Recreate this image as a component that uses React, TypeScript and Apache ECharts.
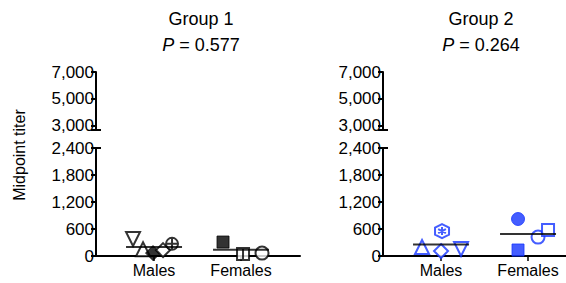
import React, { useEffect, useRef } from "react";
import * as echarts from "echarts";

const categories = ["Males", "Females"];
const group1Males = [378, 150, 65, 130, 270];
const group1Females = [310, 45, 65];
const group2Males = [200, 555, 110, 155];
const group2Females = [822, 133, 420, 578];
const lowerTicks = [0, 600, 1200, 1800, 2400];
const upperTicks = [3000, 5000, 7000];
const titles = ["Group 1", "Group 2"];
const pValues = ["0.577", "0.264"];

const BLUE = "#1535ff";
const FONT = "'Liberation Sans', Arial, Helvetica, sans-serif";

const INV_TRI = "path://M0,0 L10,0 L5,9 Z";
const TRI = "path://M5,0 L10,9 L0,9 Z";
const DIAMOND = "path://M5,0 L10,5 L5,10 L0,5 Z";
const CROSS_CIRCLE = "path://M0,5 A5,5 0 1,1 10,5 A5,5 0 1,1 0,5 Z M5,0 L5,10 M0,5 L10,5";
const HEX_STAR = "path://M5,0 L9.33,2.5 L9.33,7.5 L5,10 L0.67,7.5 L0.67,2.5 Z M5,2.2 L5,7.8 M2.6,3.6 L7.4,6.4 M2.6,6.4 L7.4,3.6";
const SQUARE = "path://M0,0 L10,0 L10,10 L0,10 Z";
const SQUARE_V = "path://M0,0 L10,0 L10,10 L0,10 Z M5,0 L5,10";
const CIRCLE = "path://M0,5 A5,5 0 1,1 10,5 A5,5 0 1,1 0,5 Z";

type Mk = { symbol: string; filled: boolean; dx: number; size?: number };

const g1MalesMarks: Mk[] = [
  { symbol: INV_TRI, filled: false, dx: -21 },
  { symbol: TRI, filled: false, dx: -11 },
  { symbol: DIAMOND, filled: true, dx: -1, size: 15 },
  { symbol: DIAMOND, filled: false, dx: 9 },
  { symbol: CROSS_CIRCLE, filled: false, dx: 18, size: 12 },
];
const g1FemalesMarks: Mk[] = [
  { symbol: SQUARE, filled: true, dx: -18, size: 12 },
  { symbol: SQUARE_V, filled: false, dx: 2, size: 12 },
  { symbol: CIRCLE, filled: false, dx: 21, size: 13 },
];
const g2MalesMarks: Mk[] = [
  { symbol: TRI, filled: false, dx: -19 },
  { symbol: HEX_STAR, filled: false, dx: 1 },
  { symbol: DIAMOND, filled: false, dx: 0 },
  { symbol: INV_TRI, filled: false, dx: 20 },
];
const g2FemalesMarks: Mk[] = [
  { symbol: CIRCLE, filled: true, dx: -10, size: 13 },
  { symbol: SQUARE, filled: true, dx: -10, size: 12 },
  { symbol: CIRCLE, filled: false, dx: 10, size: 13 },
  { symbol: SQUARE, filled: false, dx: 20, size: 12 },
];

const mean = (a: number[]) => a.reduce((s, v) => s + v, 0) / a.length;
const fmt = (v: number) => v.toLocaleString("en-US");

export default function App() {
  const ref = useRef<HTMLDivElement>(null);
  useEffect(() => {
    if (!ref.current) return;
    const chart = echarts.init(ref.current, null, { renderer: "svg" });

    const panelLeft = [96, 383];
    const panelWidth = [204, 183];
    const xMin = -0.667;
    const unit = 87;
    const upperTop = 72;
    const upperH = 58;
    const lowerTop = 148;
    const lowerH = 108;

    const grids: any[] = [];
    const xAxes: any[] = [];
    const yAxes: any[] = [];
    const series: any[] = [];
    const graphics: any[] = [];

    const panels = [
      [
        [group1Males, g1MalesMarks, "#000"],
        [group1Females, g1FemalesMarks, "#000"],
      ],
      [
        [group2Males, g2MalesMarks, BLUE],
        [group2Females, g2FemalesMarks, BLUE],
      ],
    ];

    for (let p = 0; p < 2; p++) {
      const L = panelLeft[p];
      const W = panelWidth[p];
      const xMax = xMin + W / unit;
      grids.push({ left: L, top: upperTop, width: W, height: upperH });
      grids.push({ left: L, top: lowerTop, width: W, height: lowerH });
      const gu = p * 2;
      const gl = p * 2 + 1;
      xAxes.push({ gridIndex: gu, type: "value", min: xMin, max: xMax, show: false });
      xAxes.push({
        gridIndex: gl,
        type: "value",
        min: xMin,
        max: xMax,
        axisLine: { onZero: false, lineStyle: { color: "#000", width: 2 } },
        axisTick: {
          customValues: [0, 1],
          length: 5,
          lineStyle: { color: "#000", width: 1.5 },
        },
        axisLabel: {
          customValues: [0, 1],
          formatter: (v: number) => categories[Math.round(v)] ?? "",
          color: "#000",
          fontSize: 16,
          fontFamily: FONT,
          margin: 6,
        },
        splitLine: { show: false },
      });
      yAxes.push({
        gridIndex: gu,
        type: "value",
        min: 2700,
        max: 7000,
        axisLine: { show: true, onZero: false, lineStyle: { color: "#000", width: 2 } },
        axisTick: {
          show: true,
          customValues: upperTicks,
          length: 5,
          lineStyle: { color: "#000", width: 2 },
        },
        axisLabel: {
          customValues: upperTicks,
          formatter: (v: number) => fmt(v),
          color: "#000",
          fontSize: 17,
          fontFamily: FONT,
          margin: 2,
        },
        splitLine: { show: false },
      });
      yAxes.push({
        gridIndex: gl,
        type: "value",
        min: lowerTicks[0],
        max: lowerTicks[lowerTicks.length - 1],
        interval: lowerTicks[1] - lowerTicks[0],
        axisLine: { show: true, onZero: false, lineStyle: { color: "#000", width: 2 } },
        axisTick: { show: true, length: 5, lineStyle: { color: "#000", width: 2 } },
        axisLabel: {
          formatter: (v: number) => fmt(v),
          color: "#000",
          fontSize: 17,
          fontFamily: FONT,
          margin: 2,
        },
        splitLine: { show: false },
      });

      panels[p].forEach((entry: any, ci: number) => {
        const values: number[] = entry[0];
        const marks: Mk[] = entry[1];
        const color: string = entry[2];
        series.push({
          type: "scatter",
          xAxisIndex: gl,
          yAxisIndex: gl,
          z: 3,
          data: values.map((v, i) => {
            const m = marks[i];
            return {
              value: [ci, v],
              symbol: m.symbol,
              symbolSize: m.size ?? 14,
              symbolOffset: [m.dx, 0],
              itemStyle: m.filled
                ? { color, borderColor: color, borderWidth: 1 }
                : { color: "#fff", borderColor: color, borderWidth: 2 },
            };
          }),
        });
        series.push({
          type: "scatter",
          xAxisIndex: gl,
          yAxisIndex: gl,
          z: 4,
          symbol: "rect",
          symbolSize: [56, 2],
          itemStyle: { color: "#000" },
          data: [[ci, mean(values)]],
        });
      });

      graphics.push({
        type: "line",
        shape: { x1: L - 5, y1: lowerTop, x2: L + 5, y2: lowerTop },
        style: { stroke: "#000", lineWidth: 2 },
      });
      graphics.push({
        type: "line",
        shape: { x1: L - 5, y1: upperTop + upperH, x2: L + 5, y2: upperTop + upperH },
        style: { stroke: "#000", lineWidth: 2 },
      });
    }

    const titleX = [201, 481];
    for (let p = 0; p < 2; p++) {
      graphics.push({
        type: "text",
        x: titleX[p],
        y: 19,
        style: {
          text: titles[p],
          font: `18px ${FONT}`,
          fill: "#000",
          align: "center",
          verticalAlign: "middle",
        },
      });
      graphics.push({
        type: "text",
        x: titleX[p],
        y: 45,
        style: {
          text: `{i|P} = ${pValues[p]}`,
          font: `18px ${FONT}`,
          fill: "#000",
          align: "center",
          verticalAlign: "middle",
          rich: {
            i: { fontStyle: "italic", fontSize: 18, fontFamily: FONT, fill: "#000" },
          },
        },
      });
    }
    graphics.push({
      type: "text",
      x: 19,
      y: 155,
      rotation: Math.PI / 2,
      style: {
        text: "Midpoint titer",
        font: `16px ${FONT}`,
        fill: "#000",
        align: "center",
        verticalAlign: "middle",
      },
    });

    chart.setOption({
      animation: false,
      backgroundColor: "#fff",
      grid: grids,
      xAxis: xAxes,
      yAxis: yAxes,
      series,
      graphic: graphics,
    });
    return () => chart.dispose();
  }, []);
  return (
    <div
      ref={ref}
      style={{ position: "fixed", left: 0, top: 0, width: 566, height: 283 }}
    />
  );
}
